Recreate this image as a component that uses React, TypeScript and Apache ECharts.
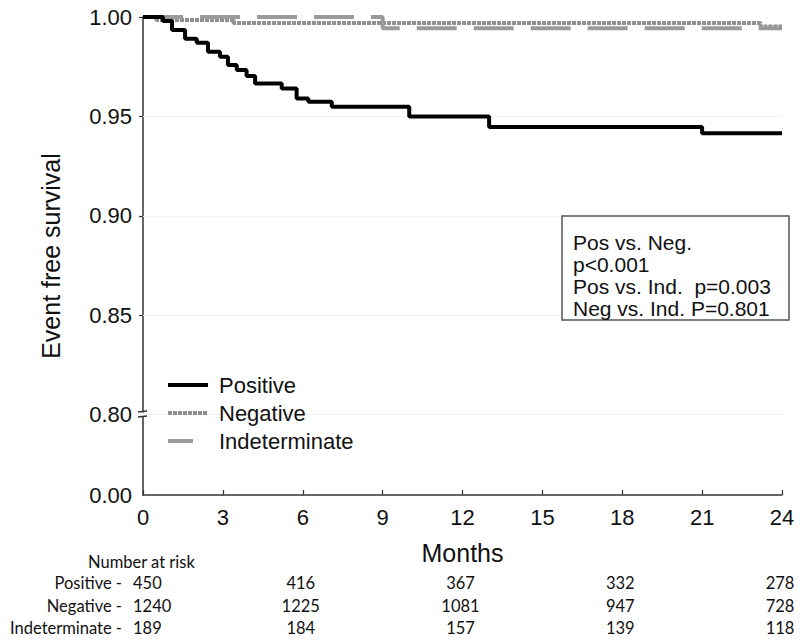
import React, { useEffect, useRef } from "react";
import * as echarts from "echarts";

// ---- data ----
const monthTicks = [0, 3, 6, 9, 12, 15, 18, 21, 24];
const yTickValues = [0.8, 0.85, 0.9, 0.95, 1.0];
const yGridValues = [0.8, 0.85, 0.9, 0.95];
const yBreakValue = 0.7595; // axis position that stands for 0.00 below the break
const yBreakLabel = "0.00";

const positiveMonths = [0, 0.75, 1.09, 1.58, 2.02, 2.44, 2.89, 3.19, 3.52, 3.89, 4.21, 5.21, 5.77, 6.21, 7.09, 10.0, 13.0, 21.0, 24];
const positiveSurv = [1.0, 0.998, 0.9935, 0.989, 0.987, 0.9825, 0.98, 0.9758, 0.9733, 0.9703, 0.9666, 0.964, 0.959, 0.9573, 0.9548, 0.95, 0.9447, 0.9415, 0.9415];

const negativeMonths = [0, 0.5, 3.4, 23.2, 24];
const negativeSurv = [1.0, 0.9985, 0.997, 0.9952, 0.9952];

const indeterminateMonths = [0, 9.0, 24];
const indeterminateSurv = [1.0, 0.9943, 0.9943];

const riskMonths = [0, 6, 12, 18, 24];
const riskGroups = ["Positive -", "Negative -", "Indeterminate -"];
const riskPositive = [450, 416, 367, 332, 278];
const riskNegative = [1240, 1225, 1081, 947, 728];
const riskIndeterminate = [189, 184, 157, 139, 118];

const pValueLines = ["Pos vs. Neg.", "p<0.001", "Pos vs. Ind.  p=0.003", "Neg vs. Ind. P=0.801"];

const FONT = "'Liberation Sans', Arial, sans-serif";
const TABLE_FONT = "Lato, 'Open Sans', sans-serif";
const NEG_COLOR = "#8f8f8f";
const IND_COLOR = "#9a9a9a";

const zip = (xs: number[], ys: number[]) => xs.map((x, i) => [x, ys[i]]);

export default function App() {
  const ref = useRef<HTMLDivElement>(null);

  useEffect(() => {
    document.body.style.margin = "0";
    const chart = echarts.init(ref.current!, null, { renderer: "svg" });

    const option: any = {
      animation: false,
      backgroundColor: "#ffffff",
      grid: { left: 143, right: 18, top: 17, bottom: 148, containLabel: false },
      xAxis: {
        type: "value",
        min: 0,
        max: 24,
        interval: 3,
        name: "Months",
        nameLocation: "middle",
        nameGap: 45,
        nameTextStyle: { fontFamily: FONT, fontSize: 25, color: "#111" },
        axisLine: { lineStyle: { color: "#333", width: 1.5 } },
        axisTick: { inside: true, length: 5, lineStyle: { color: "#333", width: 1.2 } },
        axisLabel: { fontFamily: FONT, fontSize: 22, color: "#111", margin: 11 },
        splitLine: { show: false },
      },
      yAxis: {
        type: "value",
        min: yBreakValue,
        max: 1.0,
        name: "Event free survival",
        nameLocation: "middle",
        nameGap: 80,
        nameTextStyle: { fontFamily: FONT, fontSize: 25, color: "#111" },
        axisLine: { lineStyle: { color: "#333", width: 1.5 } },
        axisTick: {
          customValues: yTickValues.filter((v) => v !== 0.8),
          length: 4,
          lineStyle: { color: "#333", width: 1.2 },
        },
        axisLabel: {
          customValues: [yBreakValue, ...yTickValues],
          formatter: (v: number) => (v < 0.79 ? yBreakLabel : v.toFixed(2)),
          fontFamily: FONT,
          fontSize: 22,
          color: "#111",
          margin: 11,
        },
        splitLine: { show: false },
      },
      legend: {
        orient: "vertical",
        left: 161,
        top: 369,
        z: 10,
        itemWidth: 40,
        itemHeight: 14,
        itemGap: 6,
        itemStyle: { opacity: 0 },
        textStyle: { fontFamily: FONT, fontSize: 22, color: "#111", padding: [0, 0, 0, 6] },
        data: [
          { name: "Positive", lineStyle: { width: 4, color: "#000" } },
          { name: "Negative", lineStyle: { width: 4, color: NEG_COLOR, type: [4, 1] } },
          { name: "Indeterminate", lineStyle: { width: 4, color: IND_COLOR, type: [25, 20] } },
        ],
      },
      series: [
        {
          name: "grid",
          type: "line",
          data: [],
          silent: true,
          z: 1,
          markLine: {
            silent: true,
            z: 1,
            symbol: "none",
            label: { show: false },
            lineStyle: { color: "#f0f0f0", width: 1, type: "solid" },
            data: yGridValues.map((v) => ({ yAxis: v })),
          },
        },
        {
          name: "Negative",
          type: "line",
          step: "end",
          data: zip(negativeMonths, negativeSurv),
          symbol: "none",
          clip: false,
          z: 3,
          itemStyle: { color: NEG_COLOR },
          lineStyle: { color: NEG_COLOR, width: 4, type: [4, 1] },
        },
        {
          name: "Indeterminate",
          type: "line",
          step: "end",
          data: zip(indeterminateMonths, indeterminateSurv),
          symbol: "none",
          clip: false,
          z: 4,
          itemStyle: { color: IND_COLOR },
          lineStyle: { color: IND_COLOR, width: 4, type: [40, 17] },
        },
        {
          name: "Positive",
          type: "line",
          step: "end",
          data: zip(positiveMonths, positiveSurv),
          symbol: "none",
          clip: false,
          z: 5,
          itemStyle: { color: "#000" },
          lineStyle: { color: "#000", width: 4 },
        },
      ],
    };
    chart.setOption(option);

    const px = (m: number, v: number) => chart.convertToPixel({ gridIndex: 0 }, [m, v]) as number[];
    const graphics: any[] = [];

    // axis break mark at 0.80
    const [bx, by] = px(0, 0.8);
    graphics.push({ type: "rect", z: 100, shape: { x: bx - 2, y: by - 2, width: 4, height: 4 }, style: { fill: "#fff" } });
    graphics.push({ type: "line", z: 101, shape: { x1: bx - 5, y1: by - 2.5, x2: bx + 4, y2: by - 3.5 }, style: { stroke: "#333", lineWidth: 1.4 } });
    graphics.push({ type: "line", z: 101, shape: { x1: bx - 5, y1: by + 2.5, x2: bx + 4, y2: by + 1.5 }, style: { stroke: "#333", lineWidth: 1.4 } });

    // p-value box
    const boxX = 562, boxY = 216, boxW = 227, boxH = 104;
    graphics.push({ type: "rect", z: 100, shape: { x: boxX, y: boxY, width: boxW, height: boxH }, style: { fill: "#fff", stroke: "#555", lineWidth: 1.5 } });
    pValueLines.forEach((t, i) => {
      graphics.push({
        type: "text", z: 101, x: boxX + 11, y: boxY + 26 + i * 22,
        style: { text: t, fill: "#111", font: `21px ${FONT}`, textAlign: "left", textVerticalAlign: "middle" },
      });
    });

    // number-at-risk table
    const baseY = px(0, yBreakValue)[1];
    const x0 = px(0, yBreakValue)[0];
    graphics.push({
      type: "text", z: 101, x: x0 - 55, y: baseY + 67,
      style: { text: "Number at risk", fill: "#111", font: `16.5px ${TABLE_FONT}`, textAlign: "left", textVerticalAlign: "middle" },
    });
    const rows = [riskPositive, riskNegative, riskIndeterminate];
    const rowOffsets = [88, 111, 133];
    rows.forEach((vals, r) => {
      const y = baseY + rowOffsets[r];
      graphics.push({
        type: "text", z: 101, x: x0 - 21, y,
        style: { text: riskGroups[r], fill: "#111", font: `16.5px ${TABLE_FONT}`, textAlign: "right", textVerticalAlign: "middle" },
      });
      vals.forEach((v, c) => {
        const mx = px(riskMonths[c], yBreakValue)[0];
        const first = c === 0;
        graphics.push({
          type: "text", z: 101, x: first ? x0 - 10 : mx - 2, y,
          style: { text: String(v), fill: "#111", font: `16.5px ${TABLE_FONT}`, textAlign: first ? "left" : "center", textVerticalAlign: "middle" },
        });
      });
    });

    chart.setOption({ graphic: graphics });
    return () => chart.dispose();
  }, []);

  return <div ref={ref} style={{ width: 800, height: 643 }} />;
}
